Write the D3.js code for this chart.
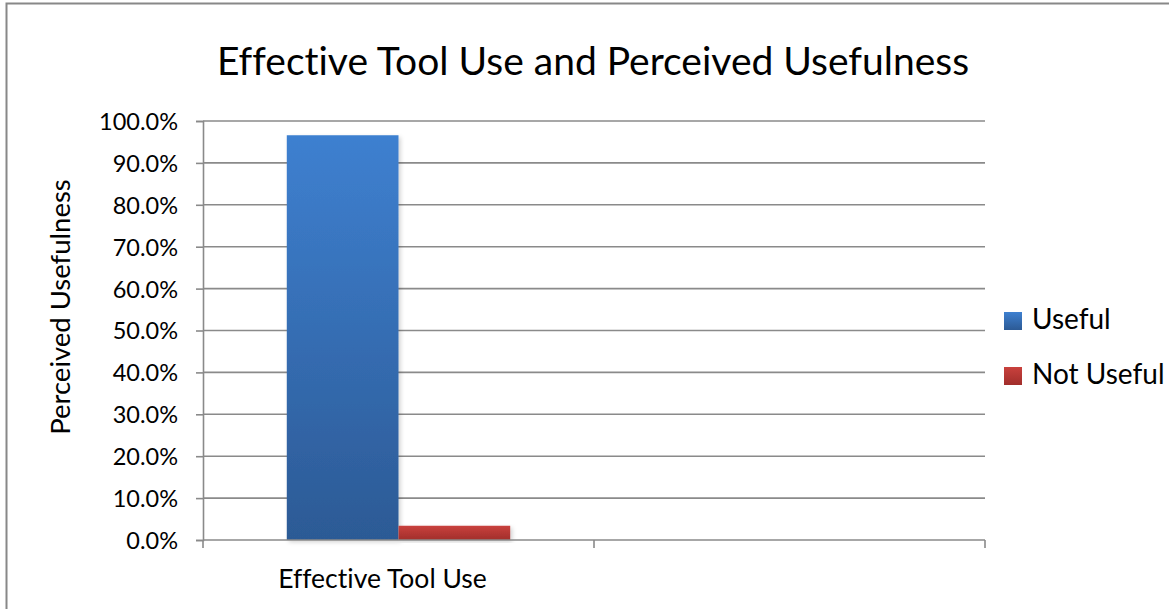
<!DOCTYPE html>
<html>
<head>
<meta charset="utf-8">
<script src="https://cdn.jsdelivr.net/npm/d3@7"></script>
<style>
  html, body { margin: 0; padding: 0; background: #fff; }
  svg { display: block; }
  text { font-family: Lato, "Open Sans", sans-serif; fill: #000; font-variant-ligatures: none; }
</style>
</head>
<body>
<svg id="chart" width="1169" height="609"></svg>
<script>
// Chart data
const categories = ["Effective Tool Use", ""];
const seriesNames = ["Useful", "Not Useful"];
const usefulValues = [0.966, null];
const notUsefulValues = [0.034, null];
const yTicks = [0, 0.1, 0.2, 0.3, 0.4, 0.5, 0.6, 0.7, 0.8, 0.9, 1.0];
const titleText = "Effective Tool Use and Perceived Usefulness";
const yAxisTitle = "Perceived Usefulness";

const svg = d3.select("#chart");
const W = 1169, H = 609;
const margin = { left: 203, right: W - 985, top: 121, bottom: H - 540 };

// Outer chart frame
svg.append("rect")
  .attr("x", 6.5).attr("y", 3.5)
  .attr("width", 1180).attr("height", 620)
  .attr("fill", "#fff").attr("stroke", "#888").attr("stroke-width", 2);

const defs = svg.append("defs");
const gradients = [
  { id: "gUseful", top: "#3E80D0", bottom: "#2C5A95" },
  { id: "gNot", top: "#C9413D", bottom: "#A12E2B" }
];
gradients.forEach(g => {
  const lg = defs.append("linearGradient").attr("id", g.id)
    .attr("x1", 0).attr("y1", 0).attr("x2", 0).attr("y2", 1);
  lg.append("stop").attr("offset", "0%").attr("stop-color", g.top);
  lg.append("stop").attr("offset", "100%").attr("stop-color", g.bottom);
});
const shadow = defs.append("filter").attr("id", "shadow")
  .attr("x", "-10%").attr("y", "-10%").attr("width", "130%").attr("height", "130%");
shadow.append("feDropShadow").attr("dx", 2).attr("dy", 2).attr("stdDeviation", 2)
  .attr("flood-color", "#000").attr("flood-opacity", 0.18);

const x0 = d3.scaleBand()
  .domain(categories.map((c, i) => i))
  .range([margin.left, W - margin.right])
  .paddingInner(0).paddingOuter(0);

// Gap width of 150% of a single bar, split across both sides of the cluster
const bw = x0.bandwidth();
const barW = bw / (2 + 1.5);
const gap = (bw - 2 * barW) / 2;
const x1 = d3.scaleBand().domain(seriesNames).range([gap, gap + 2 * barW]);

const y = d3.scaleLinear().domain([0, 1]).range([H - margin.bottom, margin.top]);

// Gridlines
svg.append("g").selectAll("line")
  .data(yTicks.filter(t => t > 0))
  .join("line")
  .attr("x1", margin.left).attr("x2", W - margin.right)
  .attr("y1", d => y(d)).attr("y2", d => y(d))
  .attr("stroke", "#8a8a8a").attr("stroke-width", 1.6);

// Y axis
const yAxis = d3.axisLeft(y).tickValues(yTicks)
  .tickFormat(d3.format(".1%")).tickSize(7).tickPadding(18);
const gy = svg.append("g").attr("transform", `translate(${margin.left},0)`).call(yAxis);
gy.select(".domain").attr("stroke", "#8a8a8a").attr("stroke-width", 1.6);
gy.selectAll(".tick line").attr("stroke", "#8a8a8a").attr("stroke-width", 1.6);
gy.selectAll(".tick text")
  .style("font-family", "Lato, sans-serif")
  .style("font-size", "23.5px").attr("fill", "#000")
  .attr("dy", "0.36em");

// Bars
const seriesValues = [usefulValues, notUsefulValues];
const fills = ["url(#gUseful)", "url(#gNot)"];
seriesNames.forEach((s, si) => {
  svg.append("g").selectAll("rect")
    .data(seriesValues[si].map((v, i) => ({ v, i })).filter(d => d.v != null))
    .join("rect")
    .attr("x", d => x0(d.i) + x1(s))
    .attr("width", x1.bandwidth())
    .attr("y", d => y(d.v))
    .attr("height", d => y(0) - y(d.v))
    .attr("fill", fills[si])
    .attr("filter", "url(#shadow)");
});

// X axis
const xAxisLine = svg.append("g");
xAxisLine.append("line")
  .attr("x1", margin.left).attr("x2", W - margin.right)
  .attr("y1", y(0)).attr("y2", y(0))
  .attr("stroke", "#8a8a8a").attr("stroke-width", 1.6);
const tickXs = categories.map((c, i) => x0(i)).concat([x0(categories.length - 1) + bw]);
xAxisLine.selectAll("line.tk").data(tickXs).join("line").attr("class", "tk")
  .attr("x1", d => d).attr("x2", d => d)
  .attr("y1", y(0)).attr("y2", y(0) + 8)
  .attr("stroke", "#8a8a8a").attr("stroke-width", 1.6);
svg.append("g").selectAll("text").data(categories).join("text")
  .attr("x", (d, i) => x0(i) + bw / 2)
  .attr("dx", -16)
  .attr("y", 588)
  .attr("text-anchor", "middle")
  .style("font-size", "26.5px")
  .text(d => d);

// Title
svg.append("text")
  .attr("x", 593).attr("y", 75)
  .attr("text-anchor", "middle")
  .style("font-size", "39px")
  .text(titleText);

// Y axis title
svg.append("text")
  .attr("transform", `translate(70,307) rotate(-90)`)
  .attr("text-anchor", "middle")
  .style("font-size", "27.5px")
  .text(yAxisTitle);

// Legend
const legend = svg.append("g");
seriesNames.forEach((s, i) => {
  const base = 329 + i * 55;
  legend.append("rect")
    .attr("x", 1004).attr("y", base - 17).attr("width", 18).attr("height", 18)
    .attr("fill", fills[i]);
  legend.append("text")
    .attr("x", 1032).attr("y", base)
    .style("font-size", "28px")
    .text(s);
});
</script>
</body>
</html>
